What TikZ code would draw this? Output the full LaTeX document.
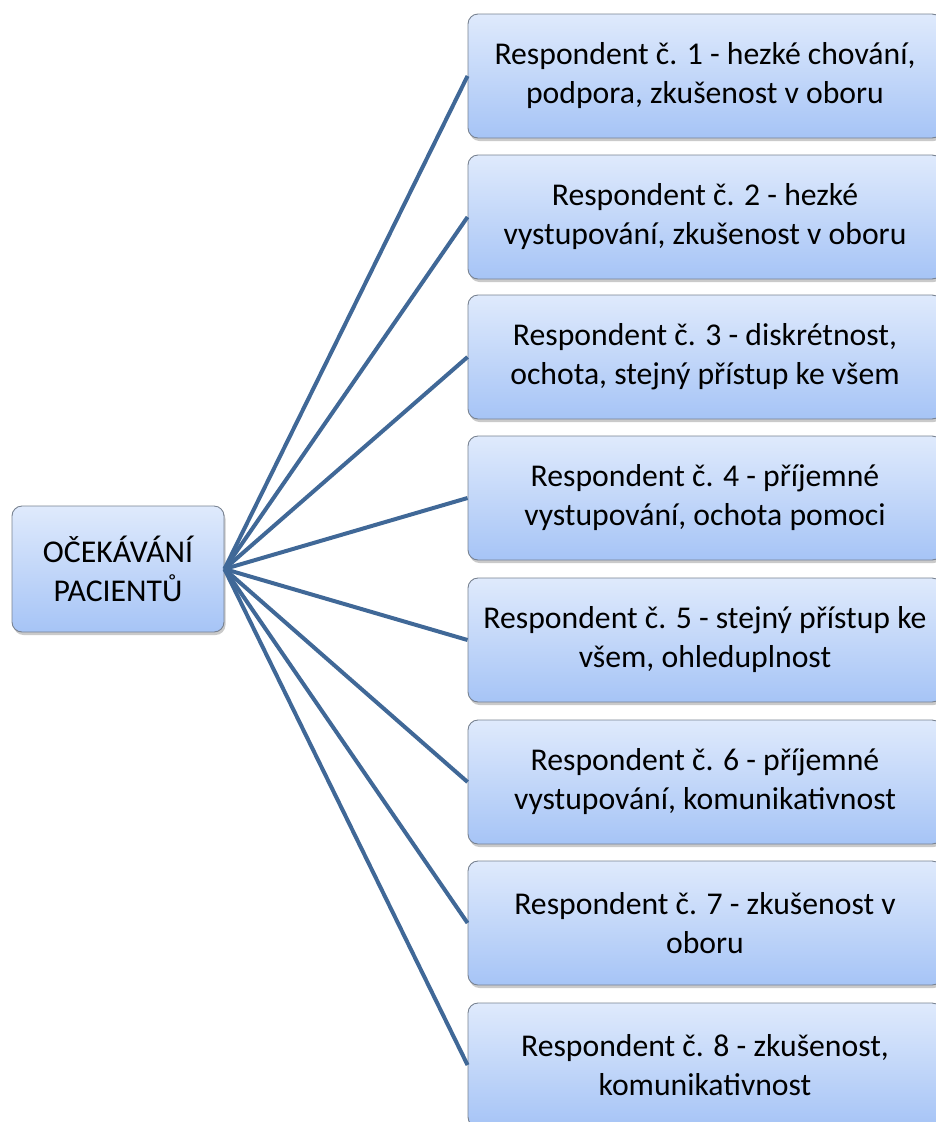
\documentclass[tikz,border=0pt]{standalone}
\usepackage{fontspec}
\setmainfont{Carlito}
\usetikzlibrary{shadows}
\definecolor{linkblue}{RGB}{64,104,151}
\definecolor{boxtop}{RGB}{223,234,252}
\definecolor{boxbottom}{RGB}{166,196,246}
\definecolor{boxedge}{RGB}{120,130,145}
\tikzset{
  topicbox/.style={draw=boxedge, line width=0.9pt, rounded corners=10pt,
    top color=boxtop, bottom color=boxbottom, align=center,
    font=\fontsize{31.7}{39}\selectfont, text=black, inner sep=0pt,
    drop shadow={shadow xshift=1.5pt, shadow yshift=-3pt, opacity=0.35, fill=black!60}},
  rootbox/.style={topicbox, minimum width=212pt, minimum height=126pt},
  leafbox/.style={topicbox, minimum width=474pt, minimum height=124pt},
  link/.style={draw=linkblue, line width=4pt}
}
\begin{document}
\begin{tikzpicture}[x=1pt,y=-1pt]
\useasboundingbox (0,0) rectangle (936,1122);
% central topic
\node[rootbox] (root) at (118,569) {OČEKÁVÁNÍ\\PACIENTŮ};
% respondent answers
\node[leafbox] (r1) at (705,76)   {Respondent č. 1 - hezké chování,\\podpora, zkušenost v oboru};
\node[leafbox] (r2) at (705,217)  {Respondent č. 2 - hezké\\vystupování, zkušenost v oboru};
\node[leafbox] (r3) at (705,357)  {Respondent č. 3 - diskrétnost,\\ochota, stejný přístup ke všem};
\node[leafbox] (r4) at (705,498)  {Respondent č. 4 - příjemné\\vystupování, ochota pomoci};
\node[leafbox] (r5) at (705,640)  {Respondent č. 5 - stejný přístup ke\\všem, ohleduplnost};
\node[leafbox] (r6) at (705,782)  {Respondent č. 6 - příjemné\\vystupování, komunikativnost};
\node[leafbox] (r7) at (705,923)  {Respondent č. 7 - zkušenost v\\oboru};
\node[leafbox] (r8) at (705,1065) {Respondent č. 8 - zkušenost,\\komunikativnost};
% connectors from the central topic
\foreach \n in {r1,r2,r3,r4,r5,r6,r7,r8}
  \draw[link] (root.east) -- (\n.west);
\end{tikzpicture}
\end{document}
